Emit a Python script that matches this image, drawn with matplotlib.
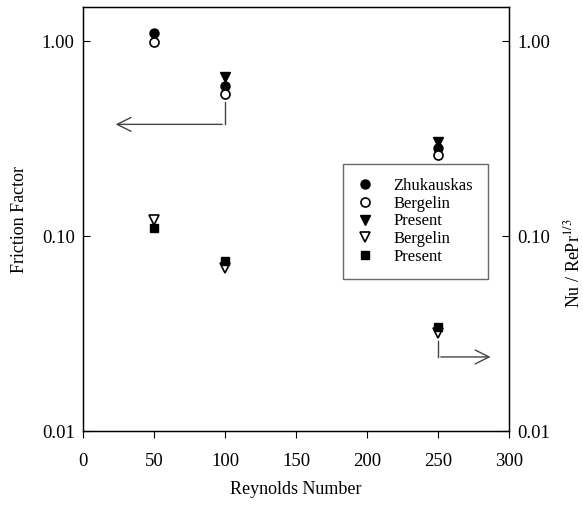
import numpy as np
import matplotlib
matplotlib.use('Agg')
import matplotlib.pyplot as plt

plt.rcParams['font.family'] = ['Liberation Serif', 'DejaVu Serif']
plt.rcParams['mathtext.fontset'] = 'stix'

# Reynolds numbers
re = [50, 100, 250]

# friction factor (left axis)
f_zhukauskas = [1.11, 0.59, 0.285]
f_bergelin = [0.99, 0.54, 0.26]
f_present = [None, 0.66, 0.305]

# heat transfer Nu / Re Pr^1/3 (right axis, same scale)
j_bergelin = [0.121, 0.0685, 0.032]
j_present = [0.110, 0.0745, 0.034]

legend_names = ["Zhukauskas", "Bergelin", "Present", "Bergelin", "Present"]

fig = plt.figure(figsize=(5.83, 5.05), dpi=100)
ax = fig.add_axes([0.1424, 0.1465, 0.7307, 0.8395])

ms = 6.5
h1, = ax.plot(re, f_zhukauskas, 'o', color='black', ms=ms, ls='none')
h2, = ax.plot(re, f_bergelin, 'o', mfc='white', mec='black', mew=1.2, ms=ms, ls='none')
h3, = ax.plot(re[1:], f_present[1:], 'v', color='black', ms=ms, ls='none')
h4, = ax.plot(re, j_bergelin, 'v', mfc='white', mec='black', mew=1.2, ms=ms, ls='none')
h5, = ax.plot(re, j_present, 's', color='black', ms=ms - 0.5, ls='none')

ax.set_yscale('log')
ax.set_xlim(0, 300)
ax.set_ylim(0.01, 1.5)
ax.set_xticks([0, 50, 100, 150, 200, 250, 300])
ax.set_yticks([0.01, 0.1, 1.0])
ax.set_yticklabels(["0.01", "0.10", "1.00"])
ax.yaxis.set_minor_locator(matplotlib.ticker.NullLocator())
ax.tick_params(axis='x', direction='out', length=5, labelsize=13.5, pad=11)
ax.tick_params(axis='y', direction='in', length=5, labelsize=13.5, pad=6)
ax.set_xlabel("Reynolds Number", fontsize=13, labelpad=8)
ax.set_ylabel("Friction Factor", fontsize=13, labelpad=10)
for s in ax.spines.values():
    s.set_linewidth(1.0)

ax2 = ax.twinx()
ax2.set_yscale('log')
ax2.set_ylim(0.01, 1.5)
ax2.set_yticks([0.01, 0.1, 1.0])
ax2.set_yticklabels(["0.01", "0.10", "1.00"])
ax2.yaxis.set_minor_locator(matplotlib.ticker.NullLocator())
ax2.tick_params(axis='y', direction='in', length=5, labelsize=13.5, pad=6)
ax2.set_ylabel(r"Nu / RePr$^{1/3}$", fontsize=13)
ax2.yaxis.set_label_coords(1.127, 0.396)

# arrows pointing to the axes
ax.plot([100, 100], [0.49, 0.375], color='#444444', lw=1)
ax.annotate("", xy=(21, 0.375), xytext=(100, 0.375),
            arrowprops=dict(arrowstyle='->', color='#444444', lw=1, mutation_scale=25))
ax.plot([250, 250], [0.029, 0.024], color='#444444', lw=1)
ax.annotate("", xy=(289, 0.024), xytext=(250, 0.024),
            arrowprops=dict(arrowstyle='->', color='#444444', lw=1, mutation_scale=25))

leg = ax.legend([h1, h2, h3, h4, h5], legend_names, loc='upper left',
                bbox_to_anchor=(0.610, 0.630), borderaxespad=0, fontsize=12,
                frameon=True, fancybox=False, edgecolor='#444444',
                handletextpad=1.2, labelspacing=0.1, borderpad=0.85,
                handlelength=1.0)
leg.get_frame().set_linewidth(1.0)

fig.savefig("out.png", dpi=100)
